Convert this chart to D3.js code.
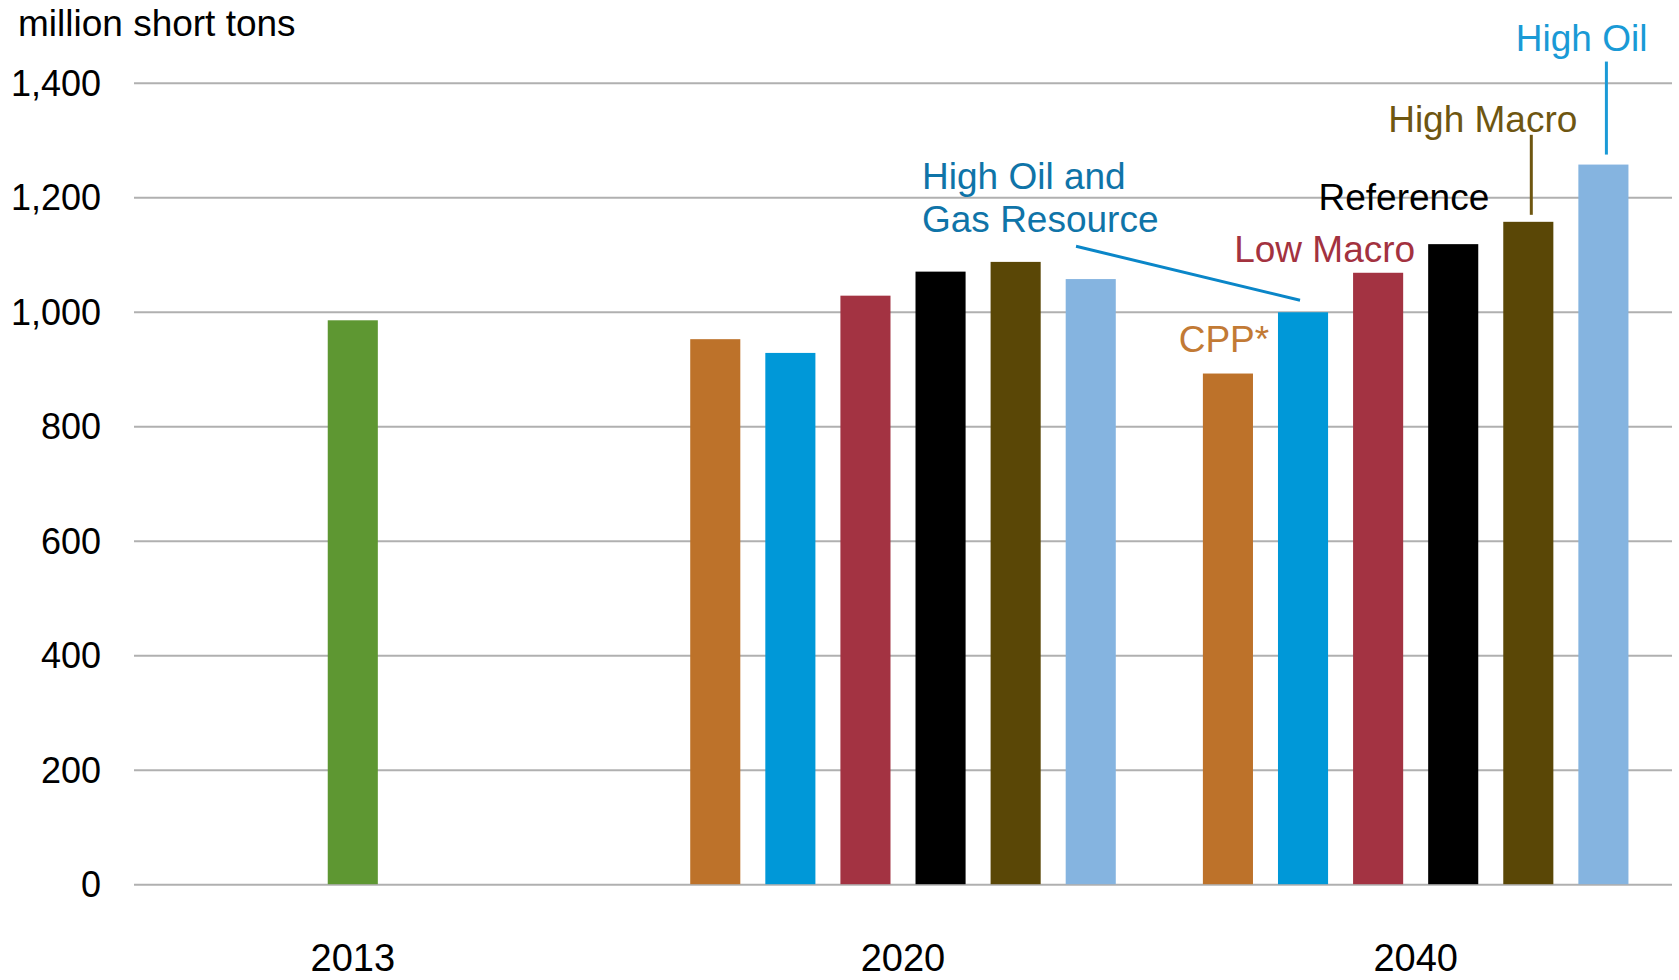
<!DOCTYPE html>
<html>
<head>
<meta charset="utf-8">
<script src="https://cdn.jsdelivr.net/npm/d3@7"></script>
<style>
  html, body { margin: 0; padding: 0; background: #ffffff; }
  svg { display: block; font-family: "Liberation Sans", Arial, sans-serif; }
</style>
</head>
<body>
<svg id="chart" width="1679" height="980"></svg>
<script>
// Coal production, million short tons, by scenario
const categories = ["2013", "2020", "2040"];
const scenarios = ["CPP*", "High Oil and Gas Resource", "Low Macro", "Reference", "High Macro", "High Oil"];
const history2013 = 985;
const values2020 = [952, 928, 1028, 1070, 1087, 1057];
const values2040 = [892, 999, 1068, 1118, 1157, 1257];
const yTicks = [0, 200, 400, 600, 800, 1000, 1200, 1400];

const scenarioColors = ["#bd722a", "#0098d8", "#a33342", "#000000", "#5a4706", "#85b4e0"];
const historyColor = "#5e9732";

const svg = d3.select("#chart");
const plotLeft = 134, plotRight = 1672;

const x0 = d3.scaleBand().domain(categories).range([plotLeft, plotRight]).paddingInner(0).paddingOuter(0);
const x1 = d3.scaleBand().domain(scenarios).range([0, x0.bandwidth()])
  .paddingInner(0.333).paddingOuter(0.58);
const y = d3.scaleLinear().domain([0, 1400]).range([884.2, 82.7]);

// gridlines and value labels
const yAxis = d3.axisLeft(y).tickValues(yTicks).tickSize(0).tickPadding(0)
  .tickFormat(d3.format(","));
const ga = svg.append("g").attr("transform", `translate(${plotLeft},0)`).call(yAxis);
ga.select(".domain").remove();
ga.selectAll(".tick line")
  .attr("x2", plotRight - plotLeft)
  .attr("stroke", "#b0b0b0").attr("stroke-width", 2);
ga.selectAll(".tick text")
  .attr("x", -33).attr("dy", "0.35em")
  .attr("font-size", 36).attr("fill", "#000")
  .attr("font-family", "'Liberation Sans', Arial, sans-serif");

svg.append("text").attr("x", 18).attr("y", 36)
  .attr("font-size", 37).attr("fill", "#000").text("million short tons");

// bar records
const bars = [];
bars.push({ cat: "2013", slot: scenarios[2], value: history2013, color: historyColor });
scenarios.forEach((s, i) => bars.push({ cat: "2020", slot: s, value: values2020[i], color: scenarioColors[i] }));
scenarios.forEach((s, i) => bars.push({ cat: "2040", slot: s, value: values2040[i], color: scenarioColors[i] }));

svg.append("g").selectAll("rect").data(bars).join("rect")
  .attr("x", d => x0(d.cat) + x1(d.slot))
  .attr("y", d => y(d.value))
  .attr("width", x1.bandwidth())
  .attr("height", d => y(0) - y(d.value))
  .attr("fill", d => d.color);

// year labels centred under the bars of each year
categories.forEach(c => {
  const bs = bars.filter(b => b.cat === c);
  const lo = d3.min(bs, b => x0(b.cat) + x1(b.slot));
  const hi = d3.max(bs, b => x0(b.cat) + x1(b.slot) + x1.bandwidth());
  svg.append("text").attr("x", (lo + hi) / 2).attr("y", 971)
    .attr("text-anchor", "middle").attr("font-size", 38).attr("fill", "#000").text(c);
});

// scenario annotations attached to the 2040 bars
const bx = i => x0("2040") + x1(scenarios[i]);
const bc = i => bx(i) + x1.bandwidth() / 2;
const bt = i => y(values2040[i]);
const bw = x1.bandwidth();
const ann = svg.append("g").attr("font-size", 37);

ann.append("text").attr("x", bc(0) - 4).attr("y", bt(0) - 22)
  .attr("text-anchor", "middle").attr("fill", "#c27a35").text("CPP*");

const hogr = ann.append("text").attr("fill", "#0f74a8");
hogr.append("tspan").attr("x", bc(1) - 381).attr("y", bt(1) - 123).text("High Oil and");
hogr.append("tspan").attr("x", bc(1) - 381).attr("y", bt(1) - 80).text("Gas Resource");
ann.append("line")
  .attr("x1", bc(1) - 227).attr("y1", bt(1) - 66)
  .attr("x2", bc(1) - 3).attr("y2", bt(1) - 12)
  .attr("stroke", "#0a86c8").attr("stroke-width", 3);

ann.append("text").attr("x", bx(2) + bw + 12).attr("y", bt(2) - 11)
  .attr("text-anchor", "end").attr("fill", "#a3323f").text("Low Macro");

ann.append("text").attr("x", bx(3) + bw + 11).attr("y", bt(3) - 34)
  .attr("text-anchor", "end").attr("fill", "#000").text("Reference");

ann.append("text").attr("x", bx(4) + bw + 24).attr("y", bt(4) - 90)
  .attr("text-anchor", "end").attr("fill", "#6e5611").text("High Macro");
ann.append("line")
  .attr("x1", bc(4) + 3).attr("y1", bt(4) - 87)
  .attr("x2", bc(4) + 3).attr("y2", bt(4) - 7)
  .attr("stroke", "#6e5611").attr("stroke-width", 3);

ann.append("text").attr("x", bx(5) + bw + 19).attr("y", bt(5) - 114)
  .attr("text-anchor", "end").attr("fill", "#1a9ad6").text("High Oil");
ann.append("line")
  .attr("x1", bc(5) + 3).attr("y1", bt(5) - 103)
  .attr("x2", bc(5) + 3).attr("y2", bt(5) - 10)
  .attr("stroke", "#1a9ad6").attr("stroke-width", 3);
</script>
</body>
</html>
